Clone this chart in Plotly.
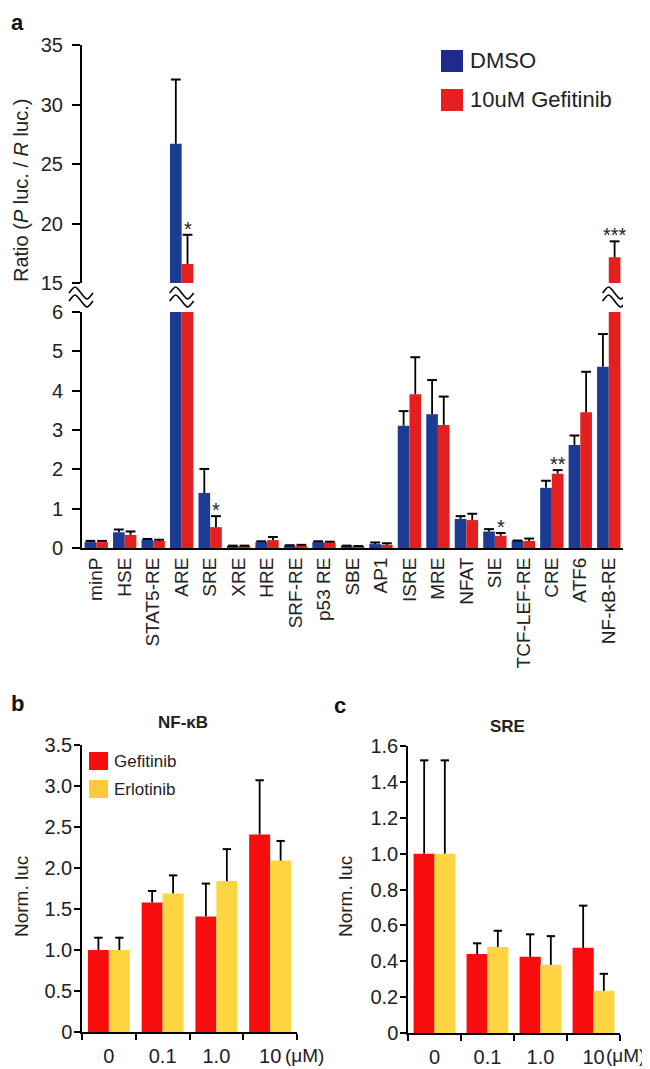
import plotly.graph_objects as go

# page body has an 8px margin: the figure is drawn 8px right/down of the window corner
OFF = 8
W, H = 650 - OFF, 1069 - OFF
FONT = "Liberation Sans, Arial, sans-serif"

# ---- panel a: reporter screen ----
elements = ["minP", "HSE", "STAT5-RE", "ARE", "SRE", "XRE", "HRE", "SRF-RE", "p53 RE",
            "SBE", "AP1", "ISRE", "MRE", "NFAT", "SIE", "TCF-LEF-RE", "CRE", "ATF6", "NF-κB-RE"]
dmso = [0.15, 0.40, 0.21, 26.7, 1.40, 0.05, 0.15, 0.06, 0.15,
        0.05, 0.10, 3.11, 3.40, 0.74, 0.42, 0.18, 1.53, 2.62, 4.61]
dmso_top = [0.18, 0.47, 0.23, 32.1, 2.01, 0.06, 0.17, 0.07, 0.17,
            0.06, 0.14, 3.48, 4.27, 0.81, 0.48, 0.19, 1.71, 2.86, 5.44]
gef = [0.15, 0.33, 0.18, 16.6, 0.53, 0.04, 0.20, 0.05, 0.14,
       0.04, 0.08, 3.91, 3.13, 0.71, 0.31, 0.18, 1.89, 3.45, 17.16]
gef_top = [0.18, 0.42, 0.21, 19.05, 0.81, 0.06, 0.28, 0.08, 0.16,
           0.05, 0.12, 4.85, 3.85, 0.87, 0.38, 0.24, 1.98, 4.48, 18.5]
stars = ["", "", "", "*", "*", "", "", "", "", "", "", "", "", "", "*", "", "**", "", "***"]

# ---- panels b / c: dose response ----
doses = ["0", "0.1", "1.0", "10"]
nfkb_gef = [1.0, 1.58, 1.41, 2.41]
nfkb_gef_top = [1.15, 1.72, 1.81, 3.07]
nfkb_erl = [1.0, 1.69, 1.84, 2.09]
nfkb_erl_top = [1.15, 1.91, 2.23, 2.33]
sre_gef = [1.0, 0.44, 0.425, 0.475]
sre_gef_top = [1.52, 0.50, 0.55, 0.71]
sre_erl = [1.0, 0.48, 0.38, 0.235]
sre_erl_top = [1.52, 0.57, 0.54, 0.33]

BLUE, RED_A = "#1c3b93", "#e3201f"
RED_B, YEL = "#f70d0d", "#fdd540"


def px_x(p):
    return (p - OFF) / W


def px_y(p):
    return 1 - (p - OFF) / H


def bars(fig, xs, vals, tops, color, width, xa, ya, cap=7):
    fig.add_trace(go.Bar(
        x=xs, y=vals, width=width, marker=dict(color=color, line=dict(width=0)),
        error_y=dict(type="data", symmetric=False, array=[t - v for t, v in zip(tops, vals)],
                     arrayminus=[0] * len(vals), width=0, thickness=1.8, color="black"),
        xaxis=xa, yaxis=ya, hoverinfo="skip"))
    fig.add_trace(go.Scatter(
        x=xs, y=tops, mode="markers", xaxis=xa, yaxis=ya, hoverinfo="skip",
        marker=dict(symbol="line-ew", size=cap, line=dict(width=2, color="black"))))


def label(x, y, text, size, **kw):
    d = dict(x=px_x(x), y=px_y(y), xref="paper", yref="paper", text=text, showarrow=False,
             xanchor="center", yanchor="middle", font=dict(size=size, color="#222"))
    d.update(kw)
    return d


fig = go.Figure()
n = len(elements)
off = 0.205
xb = [i - off for i in range(n)]
xr = [i + off for i in range(n)]
for ya in ("y", "y2"):
    bars(fig, xb, dmso, dmso_top, BLUE, 0.41, "x", ya)
    bars(fig, xr, gef, gef_top, RED_A, 0.41, "x", ya)

m = len(doses)
ob = 0.195
bars(fig, [i - ob for i in range(m)], nfkb_gef, nfkb_gef_top, RED_B, 0.39, "x2", "y3", 6)
bars(fig, [i + ob for i in range(m)], nfkb_erl, nfkb_erl_top, YEL, 0.39, "x2", "y3", 6)
bars(fig, [i - ob for i in range(m)], sre_gef, sre_gef_top, RED_B, 0.40, "x3", "y4", 6)
bars(fig, [i + ob for i in range(m)], sre_erl, sre_erl_top, YEL, 0.40, "x3", "y4", 6)

ann = []
# significance marks
for i, s in enumerate(stars):
    if s:
        ann.append(dict(x=xr[i], y=gef_top[i], xref="x", yref="y" if gef_top[i] > 6 else "y2",
                        text=s, showarrow=False, xanchor="center", yanchor="bottom", yshift=-7,
                        font=dict(size=20, color="#222")))

# axis titles / panel letters / subplot titles
ann += [
    label(21, 191, "Ratio (<i>P</i> luc. / <i>R</i> luc.)", 20, textangle=-90),
    label(21, 897, "Norm. luc", 19, textangle=-90),
    label(345, 897, "Norm. luc", 19, textangle=-90),
    label(9, 8, "<b>a</b>", 22, xanchor="left", yanchor="top", font=dict(size=22, color="#111")),
    label(9, 703, "<b>b</b>", 22, xanchor="left", font=dict(size=22, color="#111")),
    label(332, 705, "<b>c</b>", 22, xanchor="left", font=dict(size=22, color="#111")),
    label(183, 722, "<b>NF-κB</b>", 17),
    label(507, 726, "<b>SRE</b>", 17),
    label(304, 1055, "(μM)", 19),
    label(625, 1055, "(μM)", 19),
]

# legends (drawn as keys)
shapes = []
for (y0, color, txt) in [(50, "#1e2a8c", "DMSO"), (89, RED_A, "10uM Gefitinib")]:
    shapes.append(dict(type="rect", xref="paper", yref="paper", x0=px_x(441), x1=px_x(463),
                       y0=px_y(y0 + 22), y1=px_y(y0), fillcolor=color, line=dict(width=0)))
    ann.append(label(468, y0 + 11, txt, 22, xanchor="left"))
for (y0, color, txt) in [(752, RED_B, "Gefitinib"), (780, "#fbc93a", "Erlotinib")]:
    shapes.append(dict(type="rect", xref="paper", yref="paper", x0=px_x(89), x1=px_x(108),
                       y0=px_y(y0 + 18), y1=px_y(y0), fillcolor=color, line=dict(width=0)))
    ann.append(label(112, y0 + 9, txt, 17, xanchor="left"))

# axis break marks
wave = "M-12,{a} C-6,{b} -6,{b} 0,{a} S6,{c} 12,{a}"
brk_y = px_y(297)
for xr_, xv in [("paper", px_x(81)), ("x", 3), ("x", xr[-1])]:
    for dy in (4, -4):
        shapes.append(dict(type="path", xref=xr_, yref="paper", xsizemode="pixel", ysizemode="pixel",
                           xanchor=xv, yanchor=brk_y,
                           path=wave.format(a=dy, b=dy + 8, c=dy - 8),
                           line=dict(color="black", width=1.6)))

ax_common = dict(showline=True, linecolor="black", linewidth=2, showgrid=False, zeroline=False,
                 automargin=False, tickcolor="black", tickfont=dict(size=20, color="#222"))
ax_small = {**ax_common, "linewidth": 1.5}

fig.update_layout(
    width=W, height=H, margin=dict(l=0, r=0, t=0, b=0, autoexpand=False), showlegend=False,
    paper_bgcolor="white", plot_bgcolor="white", barmode="overlay",
    font=dict(family=FONT, color="#222"),
    xaxis=dict(domain=[px_x(82), px_x(623)], range=[-0.5, n - 0.5], anchor="y2",
               tickvals=list(range(n)), ticktext=elements, tickangle=-90, ticks="",
               **{**ax_common, "tickfont": dict(size=19, color="#222")}),
    yaxis=dict(domain=[px_y(283), px_y(45)], range=[15, 35], anchor="x",
               tickvals=[15, 20, 25, 30, 35], ticks="outside", ticklen=8, tickwidth=2,
               ticklabelstandoff=5, **ax_common),
    yaxis2=dict(domain=[px_y(548), px_y(312)], range=[0, 6], anchor="x",
                tickvals=[0, 1, 2, 3, 4, 5, 6], ticks="outside", ticklen=8, tickwidth=2,
                ticklabelstandoff=5, **ax_common),
    xaxis2=dict(domain=[px_x(82), px_x(297)], range=[-0.5, m - 0.5], anchor="y3",
                tickvals=list(range(m)), ticktext=doses, ticks="", ticklabelstandoff=5,
                minor=dict(tickvals=[-0.5, 0.5, 1.5, 2.5, 3.5], ticks="outside", ticklen=6,
                           tickwidth=1.5, tickcolor="black"),
                **ax_small),
    yaxis3=dict(domain=[px_y(1032), px_y(745)], range=[0, 3.5], anchor="x2",
                tickvals=[0, 0.5, 1, 1.5, 2, 2.5, 3, 3.5],
                ticktext=["0", "0.5", "1.0", "1.5", "2.0", "2.5", "3.0", "3.5"],
                ticks="outside", ticklen=6, tickwidth=1.5, ticklabelstandoff=-2,
                **ax_small),
    xaxis3=dict(domain=[px_x(408), px_x(620)], range=[-0.5, m - 0.5], anchor="y4",
                tickvals=list(range(m)), ticktext=doses, ticks="", ticklabelstandoff=5,
                minor=dict(tickvals=[-0.5, 0.5, 1.5, 2.5, 3.5], ticks="outside", ticklen=6,
                           tickwidth=1.5, tickcolor="black"),
                **ax_small),
    yaxis4=dict(domain=[px_y(1033), px_y(746)], range=[0, 1.6], anchor="x3",
                tickvals=[0, 0.2, 0.4, 0.6, 0.8, 1.0, 1.2, 1.4, 1.6],
                ticktext=["0", "0.2", "0.4", "0.6", "0.8", "1.0", "1.2", "1.4", "1.6"],
                ticks="outside", ticklen=6, tickwidth=1.5, ticklabelstandoff=-2,
                **ax_small),
    annotations=ann, shapes=shapes,
)

fig.write_html("out.html")
